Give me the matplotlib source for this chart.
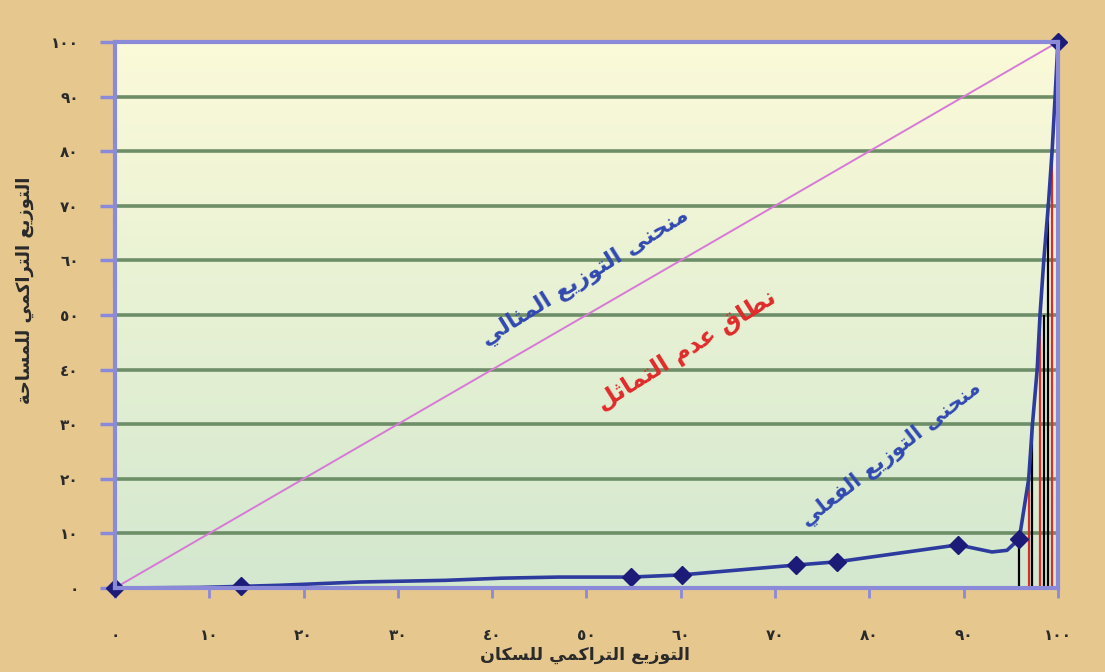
import numpy as np
import matplotlib
matplotlib.use('Agg')
import matplotlib.pyplot as plt

# cumulative population (x) and cumulative area (y)
curve_x = [0, 9, 13.4, 17.5, 26, 35, 41, 47, 54.7, 60.1, 72.2, 76.6, 89.4, 93, 94.6,
           95.9, 96.9, 97.3, 97.8, 98.1, 98.5, 99.0, 99.4, 99.7, 100]
curve_y = [0, 0.1, 0.3, 0.5, 1.1, 1.4, 1.8, 2.0, 2.0, 2.4, 4.2, 4.8, 7.9, 6.6, 6.9,
           9, 20, 30, 40, 50, 60, 70.5, 80.5, 90, 100]
marker_x = [0, 13.4, 54.7, 60.1, 72.2, 76.6, 89.4, 95.9, 100]
marker_y = [0, 0.3, 2.0, 2.4, 4.2, 4.8, 7.9, 9, 100]

# vertical bars of the asymmetry zone
bar_x = [95.9, 96.9, 97.3, 98.1, 98.5, 99.0, 99.4]
bar_top = [9, 20, 30, 50, 50, 70.5, 80.5]
bar_col = ['black', '#e02a2a', 'black', '#e02a2a', 'black', 'black', '#e02a2a']

ticks = [0, 10, 20, 30, 40, 50, 60, 70, 80, 90, 100]
tick_labels = ['٠', '١٠', '٢٠', '٣٠', '٤٠', '٥٠', '٦٠', '٧٠', '٨٠', '٩٠', '١٠٠']

xlabel = 'التوزيع التراكمي للسكان'
ylabel = 'التوزيع التراكمي للمساحة'
txt_ideal = 'منحنى التوزيع المثالي'
txt_gap = 'نطاق عدم التماثل'
txt_actual = 'منحنى التوزيع الفعلي'

# --- tiny arabic shaper (matplotlib has no shaping / bidi) ---
forms = {
    'ا': (0xFE8D, 0xFE8E, None, None), 'ب': (0xFE8F, 0xFE90, 0xFE91, 0xFE92),
    'ة': (0xFE93, 0xFE94, None, None), 'ت': (0xFE95, 0xFE96, 0xFE97, 0xFE98),
    'ث': (0xFE99, 0xFE9A, 0xFE9B, 0xFE9C), 'ج': (0xFE9D, 0xFE9E, 0xFE9F, 0xFEA0),
    'ح': (0xFEA1, 0xFEA2, 0xFEA3, 0xFEA4), 'خ': (0xFEA5, 0xFEA6, 0xFEA7, 0xFEA8),
    'د': (0xFEA9, 0xFEAA, None, None), 'ذ': (0xFEAB, 0xFEAC, None, None),
    'ر': (0xFEAD, 0xFEAE, None, None), 'ز': (0xFEAF, 0xFEB0, None, None),
    'س': (0xFEB1, 0xFEB2, 0xFEB3, 0xFEB4), 'ش': (0xFEB5, 0xFEB6, 0xFEB7, 0xFEB8),
    'ص': (0xFEB9, 0xFEBA, 0xFEBB, 0xFEBC), 'ض': (0xFEBD, 0xFEBE, 0xFEBF, 0xFEC0),
    'ط': (0xFEC1, 0xFEC2, 0xFEC3, 0xFEC4), 'ظ': (0xFEC5, 0xFEC6, 0xFEC7, 0xFEC8),
    'ع': (0xFEC9, 0xFECA, 0xFECB, 0xFECC), 'غ': (0xFECD, 0xFECE, 0xFECF, 0xFED0),
    'ف': (0xFED1, 0xFED2, 0xFED3, 0xFED4), 'ق': (0xFED5, 0xFED6, 0xFED7, 0xFED8),
    'ك': (0xFED9, 0xFEDA, 0xFEDB, 0xFEDC), 'ل': (0xFEDD, 0xFEDE, 0xFEDF, 0xFEE0),
    'م': (0xFEE1, 0xFEE2, 0xFEE3, 0xFEE4), 'ن': (0xFEE5, 0xFEE6, 0xFEE7, 0xFEE8),
    'ه': (0xFEE9, 0xFEEA, 0xFEEB, 0xFEEC), 'و': (0xFEED, 0xFEEE, None, None),
    'ى': (0xFEEF, 0xFEF0, None, None), 'ي': (0xFEF1, 0xFEF2, 0xFEF3, 0xFEF4),
}

def shape(s):
    out = []
    for i, c in enumerate(s):
        if c not in forms:
            out.append(c)
            continue
        prev = s[i-1] if i > 0 else ''
        nxt = s[i+1] if i < len(s)-1 else ''
        join_prev = prev in forms and forms[prev][2] is not None
        join_next = forms[c][2] is not None and nxt in forms
        f = forms[c]
        if join_prev and join_next:
            out.append(chr(f[3]))
        elif join_prev:
            out.append(chr(f[1]))
        elif join_next:
            out.append(chr(f[2]))
        else:
            out.append(chr(f[0]))
    return ''.join(out)[::-1]

fig = plt.figure(figsize=(11.05, 6.72), dpi=100)
fig.patch.set_facecolor('#e6c88f')
ax = fig.add_axes([0.104, 0.125, 0.8534, 0.8125])

# yellow (top) -> green (bottom) background of the plot area
grad = np.linspace(0, 1, 256).reshape(-1, 1)
cmap = matplotlib.colors.LinearSegmentedColormap.from_list('bg', ['#fbfad9', '#d3e8cf'])
ax.imshow(grad, cmap=cmap, aspect='auto', extent=[0, 100, 0, 100], origin='upper', zorder=0)

for t in ticks[1:]:
    ax.axhline(t, color='#6e8e68', lw=2.6, zorder=1)

ax.plot([0, 100], [0, 100], color='#d67ad6', lw=1.4, zorder=2)

for x, top, c in zip(bar_x, bar_top, bar_col):
    ax.vlines(x, 0, top, color=c, lw=1.6, zorder=3)

ax.plot(curve_x, curve_y, color='#2d3b9e', lw=2.6, zorder=4, solid_joinstyle='round')
ax.plot(marker_x, marker_y, 'D', color='#1c1c78', ms=9, zorder=6, clip_on=False)

ax.set_xlim(0, 100)
ax.set_ylim(0, 100)
ax.set_xticks(ticks)
ax.set_yticks(ticks)
ax.set_xticklabels(tick_labels, fontsize=11, fontweight='bold', color='#2a2a2a')
ax.set_yticklabels(tick_labels, fontsize=11, fontweight='bold', color='#2a2a2a')
ax.tick_params(axis='x', direction='out', length=7, width=2, color='#8a8ad8', pad=22)
ax.tick_params(axis='y', direction='out', length=11, width=2.5, color='#8a8ad8', pad=15)
for sp in ax.spines.values():
    sp.set_color('#8a8ad8')
    sp.set_linewidth(3)
    sp.set_zorder(6)

ax.text(49.8, 57.0, shape(txt_ideal), color='#3048b0', fontsize=16, fontweight='bold',
        rotation=32, ha='center', va='center', zorder=7)
ax.text(60.6, 43.6, shape(txt_gap), color='#e02a2a', fontsize=17, fontweight='bold',
        rotation=32, ha='center', va='center', zorder=7)
ax.text(82.3, 24.5, shape(txt_actual), color='#3048b0', fontsize=15, fontweight='bold',
        rotation=38, ha='center', va='center', zorder=7)

fig.text(585/1105, 1 - 655/672, shape(xlabel), fontsize=12.5, fontweight='bold',
         color='#2a2a2a', ha='center', va='center')
fig.text(25/1105, 1 - 290/672, shape(ylabel), fontsize=13, fontweight='bold',
         color='#2a2a2a', ha='center', va='center', rotation=90)

fig.savefig('out.png', dpi=100, facecolor=fig.get_facecolor())
